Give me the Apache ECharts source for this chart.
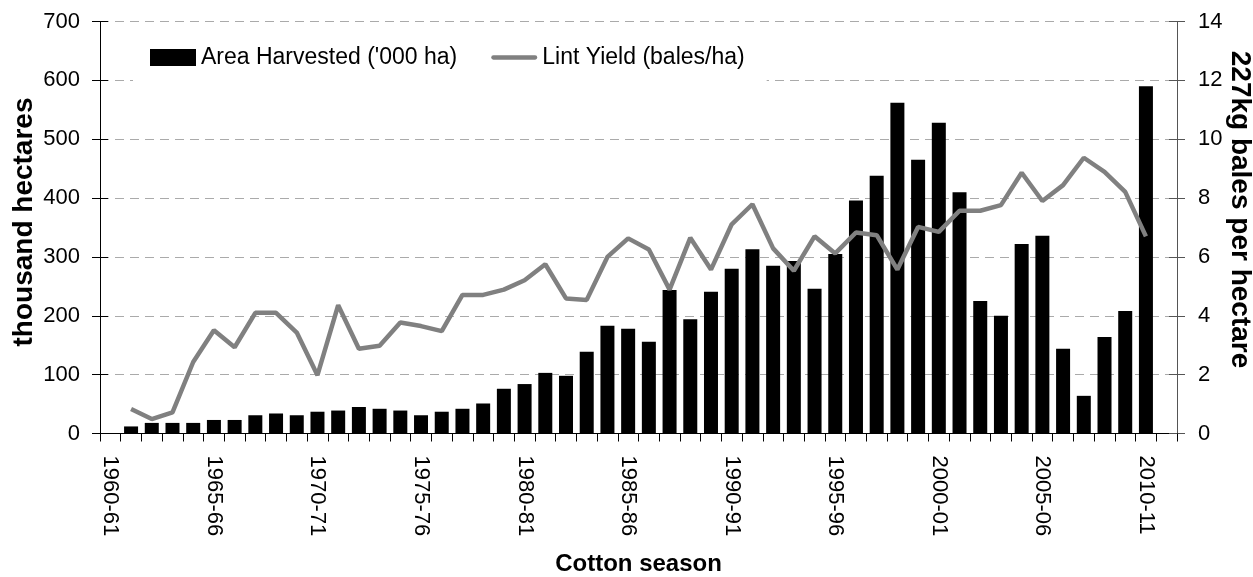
<!DOCTYPE html>
<html>
<head>
<meta charset="utf-8">
<script src="https://cdn.jsdelivr.net/npm/echarts@6/dist/echarts.min.js"></script>
<style>
  html, body { margin: 0; padding: 0; background: #fff; }
  #chart { width: 1253px; height: 577px; }
</style>
</head>
<body>
<div id="chart"></div>
<script>
const seasons = [
  "1960-61", "1961-62", "1962-63", "1963-64", "1964-65", "1965-66", "1966-67", "1967-68", "1968-69", "1969-70",
  "1970-71", "1971-72", "1972-73", "1973-74", "1974-75", "1975-76", "1976-77", "1977-78", "1978-79", "1979-80",
  "1980-81", "1981-82", "1982-83", "1983-84", "1984-85", "1985-86", "1986-87", "1987-88", "1988-89", "1989-90",
  "1990-91", "1991-92", "1992-93", "1993-94", "1994-95", "1995-96", "1996-97", "1997-98", "1998-99", "1999-00",
  "2000-01", "2001-02", "2002-03", "2003-04", "2004-05", "2005-06", "2006-07", "2007-08", "2008-09", "2009-10",
  "2010-11", "2011-12"
];

// '000 ha
const areaHarvested = [
  null, 12, 18, 18, 18, 23, 23, 31, 34, 31,
  37, 39, 45, 42, 39, 31, 37, 42, 51, 76,
  84, 103, 98, 139, 183, 178, 156, 244, 194, 241,
  280, 313, 285, 293, 246, 305, 396, 438, 562, 465,
  528, 410, 225, 200, 322, 336, 144, 64, 164, 208,
  590, null
];

// bales/ha
const lintYield = [
  null, 0.83, 0.49, 0.72, 2.43, 3.51, 2.93, 4.10, 4.10, 3.43,
  1.98, 4.36, 2.88, 2.98, 3.77, 3.65, 3.48, 4.71, 4.71, 4.89,
  5.21, 5.75, 4.59, 4.54, 6.00, 6.63, 6.25, 4.89, 6.65, 5.57,
  7.11, 7.79, 6.29, 5.53, 6.70, 6.12, 6.83, 6.74, 5.57, 7.02,
  6.85, 7.57, 7.57, 7.76, 8.86, 7.90, 8.44, 9.37, 8.89, 8.21,
  6.70, null
];

const leftTicks = [0, 100, 200, 300, 400, 500, 600, 700];
const rightTicks = [0, 2, 4, 6, 8, 10, 12, 14];

const FONT = "Liberation Sans";

const myChart = echarts.init(document.getElementById("chart"));

// plain axis used only to draw the inner half of the cross ticks
const innerTicks = (ticks, pos, color) => ({
  type: "value",
  position: pos,
  min: ticks[0],
  max: ticks[ticks.length - 1],
  interval: ticks[1] - ticks[0],
  axisLine: { show: true, lineStyle: { color: color } },
  axisTick: { show: true, inside: true, length: 8, lineStyle: { color: color } },
  axisLabel: { show: false },
  splitLine: { show: false },
});

const option = {
  animation: false,
  backgroundColor: "#fff",
  textStyle: { fontFamily: FONT },
  grid: {
    left: 100,
    right: 76,
    top: 21.5,
    bottom: 143.5,
    outerBoundsMode: "none",
    containLabel: false,
  },
  legend: {
    left: 133,
    top: 31,
    padding: [15, 22, 15, 17],
    backgroundColor: "#fff",
    itemWidth: 46,
    itemHeight: 17,
    itemGap: 34,
    textStyle: { fontSize: 23, color: "#000", fontFamily: FONT },
    data: [
      { name: "Area Harvested ('000 ha)", icon: "rect" },
      {
        name: "Lint Yield (bales/ha)",
        icon: "path://M2,0 L46,0 A2.25,2.25 0 0 1 46,4.5 L2,4.5 A2.25,2.25 0 0 1 2,0 Z",
      },
    ],
  },
  xAxis: {
    type: "category",
    data: seasons,
    name: "Cotton season",
    nameLocation: "middle",
    nameGap: 119,
    nameMoveOverlap: false,
    nameTextStyle: { fontSize: 24, fontWeight: "bold", color: "#000", fontFamily: FONT },
    axisLine: { lineStyle: { color: "#000" } },
    axisTick: { show: true, interval: 0, length: 8, lineStyle: { color: "#000" } },
    axisLabel: {
      interval: 4,
      rotate: -90,
      margin: 22,
      fontSize: 22,
      color: "#000",
      fontFamily: FONT,
    },
  },
  yAxis: [
    {
      type: "value",
      position: "left",
      min: leftTicks[0],
      max: leftTicks[leftTicks.length - 1],
      interval: leftTicks[1] - leftTicks[0],
      name: "thousand hectares",
      nameLocation: "middle",
      nameGap: 62,
      nameMoveOverlap: false,
      nameTextStyle: {
        fontSize: 28,
        fontWeight: "bold",
        color: "#000",
        fontFamily: FONT,
        padding: [0, 0, 0, 11],
      },
      axisLine: { show: true, lineStyle: { color: "#000" } },
      axisTick: { show: true, length: 8, lineStyle: { color: "#000" } },
      axisLabel: { fontSize: 22, color: "#000", margin: 20, fontFamily: FONT },
      splitLine: {
        show: true,
        lineStyle: { color: "#aaa", type: [9, 6], width: 1 },
      },
    },
    {
      type: "value",
      position: "right",
      min: rightTicks[0],
      max: rightTicks[rightTicks.length - 1],
      interval: rightTicks[1] - rightTicks[0],
      name: "227kg bales per hectare",
      nameLocation: "middle",
      nameGap: 49,
      nameMoveOverlap: false,
      nameRotate: -90,
      nameTextStyle: {
        fontSize: 28,
        fontWeight: "bold",
        color: "#000",
        fontFamily: FONT,
        padding: [0, 36, 0, 0],
      },
      axisLine: { show: true, lineStyle: { color: "#555" } },
      axisTick: { show: true, length: 8, lineStyle: { color: "#555" } },
      axisLabel: { fontSize: 22, color: "#000", margin: 21, fontFamily: FONT },
      splitLine: { show: false },
    },
    innerTicks(leftTicks, "left", "#000"),
    innerTicks(rightTicks, "right", "#555"),
  ],
  series: [
    {
      name: "Area Harvested ('000 ha)",
      type: "bar",
      yAxisIndex: 0,
      data: areaHarvested,
      barWidth: 14,
      itemStyle: { color: "#000" },
    },
    {
      name: "Lint Yield (bales/ha)",
      type: "line",
      yAxisIndex: 1,
      data: lintYield,
      symbol: "none",
      lineStyle: { color: "#808080", width: 4.5 },
      itemStyle: { color: "#808080" },
    },
  ],
};

myChart.setOption(option);
</script>
</body>
</html>
